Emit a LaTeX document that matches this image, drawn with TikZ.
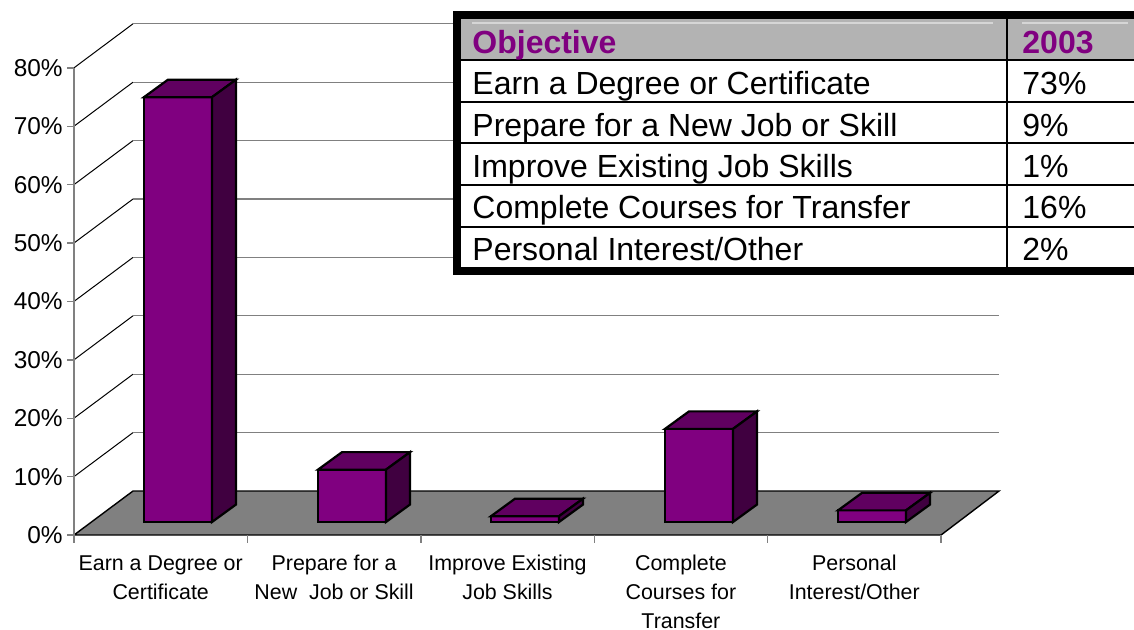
\documentclass[tikz,border=0pt]{standalone}
\usepackage{fontspec}
\setmainfont{Liberation Sans}
\definecolor{barfront}{HTML}{800080}
\definecolor{bartop}{HTML}{600060}
\definecolor{barside}{HTML}{400040}
\definecolor{floorgray}{HTML}{808080}
\definecolor{gridgray}{HTML}{808080}
\definecolor{headgray}{HTML}{B3B3B3}
\definecolor{headhi}{HTML}{D6D6D6}
\tikzset{
  gridline/.style={gridgray, line width=0.6pt},
  diagline/.style={black, line width=0.5pt},
  axisline/.style={gridgray, line width=0.7pt},
  barline/.style={black, line width=1.1pt, line join=miter},
  ylab/.style={anchor=east, inner sep=0pt, font=\fontsize{12.2}{14}\selectfont},
  catlab/.style={anchor=north, inner sep=0pt, align=center, font=\fontsize{10.7}{14.5}\selectfont},
  celltext/.style={anchor=base west, inner sep=0pt, font=\fontsize{16}{18}\selectfont},
  headtext/.style={celltext, text=barfront, font=\fontsize{16}{18}\selectfont\bfseries}
}
\begin{document}
\begin{tikzpicture}[x=0.5pt, y=-0.5pt]
\useasboundingbox (0,0) rectangle (1134,629);
% back wall grid and side lines
\foreach \k in {1,...,8} {
  \pgfmathsetmacro{\yf}{535-58.4*\k}
  \draw[diagline] (74,\yf) -- (133,\yf-44);
  \draw[gridline] (133,\yf-44) -- (999,\yf-44);
  \draw[axisline] (67,\yf) -- (74,\yf);
}
% floor
\draw[black, line width=0.7pt, fill=floorgray] (74,535) -- (133,491) -- (999,491) -- (941,535) -- cycle;
\draw[axisline] (74,68) -- (74,535);
\draw[axisline] (67,535) -- (74,535);
\foreach \i in {0,...,5}
  \draw[axisline] (74+173.4*\i,535) -- (74+173.4*\i,543);
% bars
\foreach \cx/\val in {144/73, 318/9, 491/1, 665/16, 838/2} {
  \pgfmathsetmacro{\yt}{522-5.82*\val}
  \draw[barline, fill=barfront] (\cx,522) rectangle (\cx+68,\yt);
  \draw[barline, fill=bartop] (\cx,\yt) -- ++(24,-17.5) -- ++(68,0) -- ++(-24,17.5) -- cycle;
  \draw[barline, fill=barside] (\cx+68,522) -- ++(24,-17.5) -- (\cx+92,\yt-17.5) -- (\cx+68,\yt) -- cycle;
}
% y axis labels
\foreach \k/\txt in {0/0, 1/10, 2/20, 3/30, 4/40, 5/50, 6/60, 7/70, 8/80}
  \node[ylab] (ylab\k) at (63,535-58.4*\k) {\txt\%};
% category labels
\node[catlab] (cat1) at (160.7,555) {Earn a Degree or\\Certificate};
\node[catlab] (cat2) at (334.1,555) {Prepare for a\\New\ \ Job or Skill};
\node[catlab] (cat3) at (507.5,555) {Improve Existing\\Job Skills};
\node[catlab] (cat4) at (680.9,555) {Complete\\Courses for\\Transfer};
\node[catlab] (cat5) at (854.3,555) {Personal\\Interest/Other};
% table
\fill[white] (457,15) rectangle (1140,271);
\fill[headgray] (461,19) rectangle (1140,60);
\draw[headhi, line width=0.6pt] (472,23) -- (993,23);
\draw[headhi, line width=0.6pt] (1022,23) -- (1128,23);
\foreach \yr in {60,102,143,185,227}
  \draw[black, line width=1.1pt] (461,\yr) -- (1140,\yr);
\draw[black, line width=1.1pt] (1007,19) -- (1007,267);
\draw[black, line width=4pt] (457,15) rectangle (1144,271);
\node[headtext] (hdrobj) at (472,53) {Objective};
\node[headtext] (hdryear) at (1022,53) {2003};
\node[celltext] (obj1) at (472,94) {Earn a Degree or Certificate};
\node[celltext] (pct1) at (1022,94) {73\%};
\node[celltext] (obj2) at (472,136) {Prepare for a New Job or Skill};
\node[celltext] (pct2) at (1022,136) {9\%};
\node[celltext] (obj3) at (472,177) {Improve Existing Job Skills};
\node[celltext] (pct3) at (1022,177) {1\%};
\node[celltext] (obj4) at (472,218) {Complete Courses for Transfer};
\node[celltext] (pct4) at (1022,218) {16\%};
\node[celltext] (obj5) at (472,260) {Personal Interest/Other};
\node[celltext] (pct5) at (1022,260) {2\%};
\end{tikzpicture}
\end{document}
